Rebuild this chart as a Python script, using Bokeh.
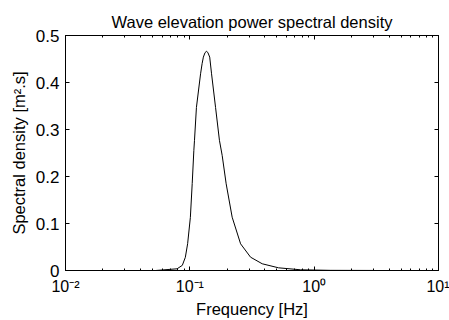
from bokeh.plotting import figure
from bokeh.models import (Range1d, LinearAxis, LogAxis, FixedTicker, ColumnDataSource)
from bokeh.embed import file_html
from bokeh.resources import INLINE

# Data
freq_hz = [0.053, 0.079, 0.087, 0.092, 0.096, 0.101, 0.1045, 0.1077, 0.109,
           0.113, 0.122, 0.1255, 0.1285, 0.1325, 0.1363, 0.140, 0.1445, 0.1495,
           0.161, 0.173, 0.182, 0.196, 0.219, 0.256, 0.308, 0.382, 0.517,
           0.777, 1.355, 3.0]
density = [0.0, 0.0036, 0.011, 0.028, 0.057, 0.113, 0.185, 0.255, 0.277,
           0.347, 0.4185, 0.440, 0.454, 0.4635, 0.4666, 0.463, 0.454, 0.4185,
           0.347, 0.277, 0.245, 0.1845, 0.1134, 0.0568, 0.0283, 0.0143, 0.0057,
           0.0015, 0.0003, 0.0001]

x_ticks = [0.01, 0.1, 1, 10]
x_tick_labels = ["10\u207b\u00b2", "10\u207b\u00b9", "10\u2070", "10\u00b9"]
y_ticks = [0, 0.1, 0.2, 0.3, 0.4, 0.5]
y_tick_labels = ["0", "0.1", "0.2", "0.3", "0.4", "0.5"]

title_text = "Wave elevation power spectral density"
x_label = "Frequency [Hz]"
y_label = "Spectral density [m\u00b2.s]"

FONT = "Liberation Sans"

minor = [d * m for d in x_ticks[:-1] for m in range(2, 10)]

p = figure(width=449, height=320, x_axis_type="log",
           x_range=Range1d(0.01, 10), y_range=Range1d(0, 0.5),
           output_backend="svg", toolbar_location=None,
           min_border_left=65, min_border_right=11, min_border_top=35, min_border_bottom=50)

p.title.text = title_text
p.title.align = "center"
p.title.text_font = FONT
p.title.text_font_size = "16.5px"
p.title.text_font_style = "normal"
p.title.text_color = "#000000"
p.title.offset = 0
p.title.standoff = 9

src = ColumnDataSource(dict(f=freq_hz, s=density))
p.line("f", "s", source=src, line_color="#000000", line_width=1)

p.xgrid.visible = False
p.ygrid.visible = False
p.outline_line_color = "#000000"
p.outline_line_width = 1
p.background_fill_color = "#ffffff"
p.border_fill_color = "#ffffff"

xt = FixedTicker(ticks=x_ticks, minor_ticks=minor)
yt = FixedTicker(ticks=y_ticks, minor_ticks=[])

def style(ax, show_labels):
    ax.axis_line_color = "#000000"
    ax.major_tick_line_color = "#000000"
    ax.minor_tick_line_color = "#000000"
    ax.major_tick_in = 4
    ax.major_tick_out = 0
    ax.minor_tick_in = 2
    ax.minor_tick_out = 0
    ax.major_label_text_font = FONT
    ax.major_label_text_font_size = "17px" if show_labels else "1px"
    ax.major_label_text_color = "#000000" if show_labels else None
    ax.axis_label_text_font = FONT
    ax.axis_label_text_font_size = "16.5px"
    ax.axis_label_text_font_style = "normal"
    ax.axis_label_text_color = "#000000"
    ax.major_label_standoff = 6

xa = p.xaxis[0]
xa.ticker = xt
xa.major_label_overrides = {t: l for t, l in zip(x_ticks, x_tick_labels)}
xa.axis_label = x_label
style(xa, True)
xa.major_label_text_font_size = "16px"
xa.major_label_standoff = 7
xa.axis_label_standoff = 2

ya = p.yaxis[0]
ya.ticker = yt
ya.major_label_overrides = {t: l for t, l in zip(y_ticks, y_tick_labels)}
ya.axis_label = y_label
style(ya, True)
ya.axis_label_standoff = 5

top = LogAxis(ticker=xt)
style(top, False)
top.major_label_standoff = 0
p.add_layout(top, "above")

right = LinearAxis(ticker=yt)
style(right, False)
right.major_label_standoff = 0
p.add_layout(right, "right")

open("out.html", "w").write(file_html(p, INLINE))
